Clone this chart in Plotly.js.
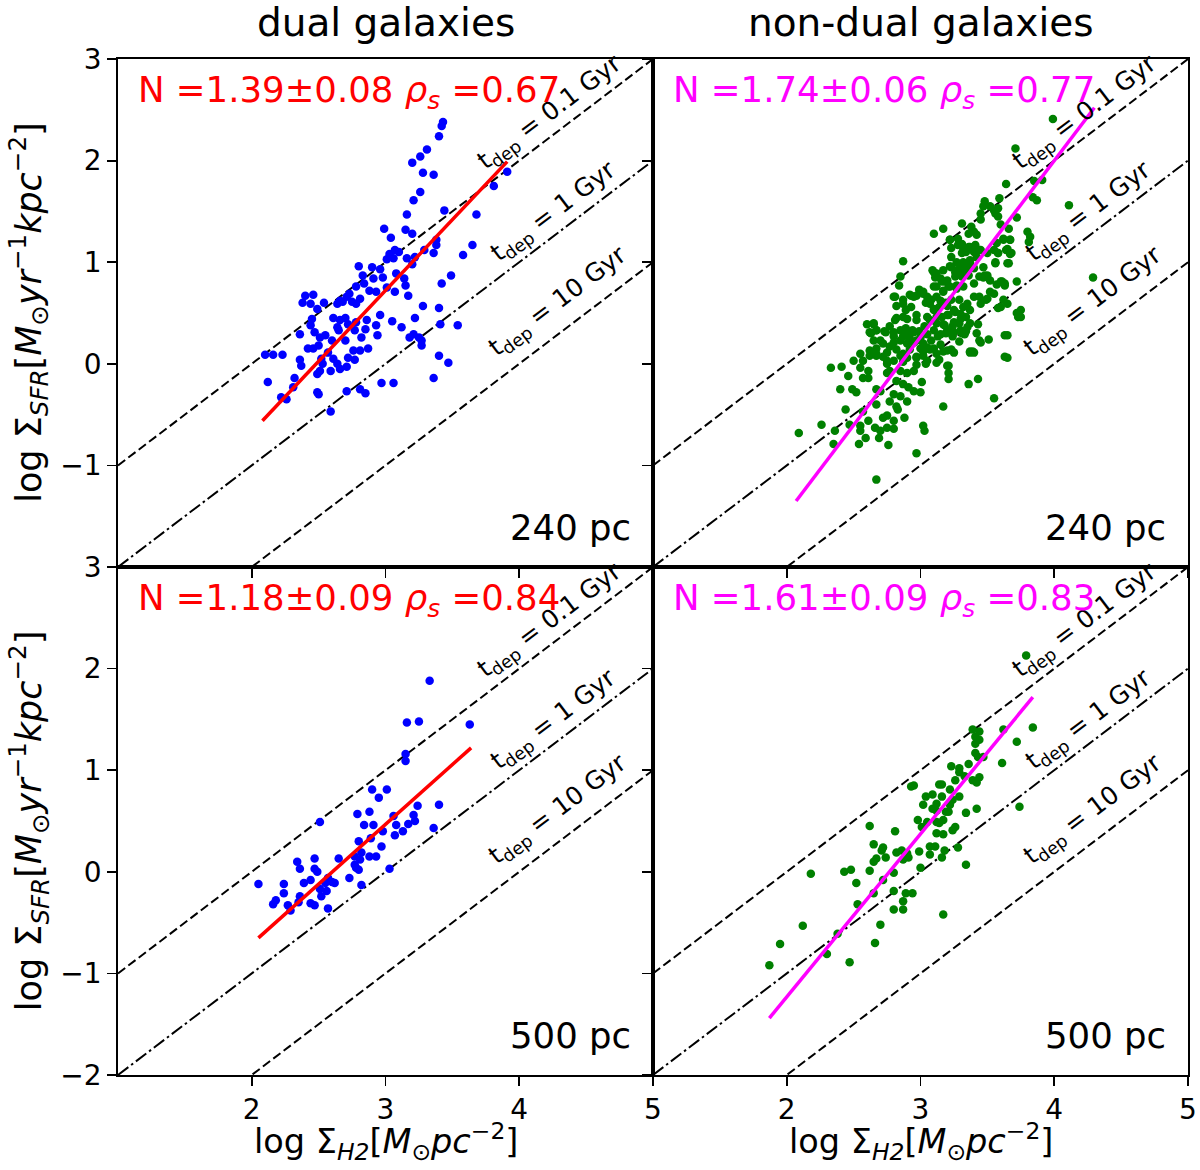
<!DOCTYPE html>
<html>
<head>
<meta charset="utf-8">
<script src="https://cdn.plot.ly/plotly-3.0.1.min.js"></script>
<style>
  body { margin: 0; background: #fff; }
  #chart { width: 1200px; height: 1170px; }
</style>
</head>
<body>
<div id="chart"></div>
<script>
// Данные: dual, 240 pc
const dual240X = [3.43,3.42,3.40,3.31,3.26,3.20,3.28,3.36,3.91,3.81,3.26,3.21,3.44,3.16,3.68,2.99,3.15,3.20,3.04,3.38,
  3.38,3.65,3.29,3.36,3.58,3.07,3.03,3.10,3.06,3.01,3.16,3.22,3.20,3.49,3.42,2.80,2.90,2.96,2.83,2.91,
  2.98,3.08,3.14,2.84,2.88,2.93,3.01,3.07,3.15,3.17,2.78,2.73,2.71,2.75,2.78,2.81,2.68,2.66,2.64,2.40,
  2.46,2.38,2.44,2.49,2.54,3.28,3.40,2.96,3.05,3.12,3.22,3.41,3.54,2.45,2.44,2.47,2.36,2.51,2.55,2.61,
  2.66,2.70,2.64,2.65,2.72,2.77,2.78,2.86,2.85,2.82,2.93,2.94,2.42,2.46,2.50,2.60,2.70,3.21,3.25,3.27,
  3.18,3.27,2.57,2.52,2.61,2.64,2.72,2.76,2.81,2.87,2.77,2.10,2.16,2.23,2.36,2.37,2.53,2.51,2.59,2.66,
  2.71,2.49,3.40,3.47,3.36,2.12,2.32,2.31,2.22,2.26,2.49,2.50,2.71,2.81,2.85,2.97,3.06,2.59];
const dual240Y = [2.38,2.34,2.24,2.11,2.04,1.98,1.88,1.86,1.89,1.75,1.69,1.61,1.51,1.47,1.47,1.33,1.32,1.28,1.24,1.22,
  1.17,1.17,1.12,1.09,1.07,1.12,1.08,1.10,1.04,1.03,1.04,1.05,0.98,0.87,0.79,0.96,0.95,0.93,0.87,0.84,
  0.85,0.89,0.84,0.79,0.72,0.71,0.75,0.71,0.77,0.67,0.76,0.69,0.66,0.61,0.59,0.64,0.61,0.62,0.59,0.67,
  0.68,0.60,0.59,0.54,0.60,0.57,0.55,0.48,0.42,0.36,0.45,0.39,0.38,0.44,0.38,0.31,0.29,0.26,0.28,0.45,
  0.43,0.45,0.36,0.33,0.39,0.33,0.41,0.43,0.34,0.26,0.38,0.28,0.15,0.15,0.18,0.23,0.23,0.29,0.26,0.23,
  0.26,0.18,0.11,0.05,0.05,0.00,0.06,0.13,0.13,0.15,0.04,0.09,0.09,0.09,0.04,-0.02,0.00,-0.07,-0.07,-0.05,
  -0.03,-0.10,0.08,0.01,-0.14,-0.18,-0.14,-0.23,-0.33,-0.35,-0.28,-0.30,-0.27,-0.25,-0.29,-0.19,-0.19,-0.47];

// Данные: non-dual, 240 pc
const nondual240X = [3.99,3.71,3.64,3.85,3.91,3.84,3.87,4.11,3.59,3.48,3.52,3.55,3.58,3.56,3.58,3.47,3.45,3.72,3.60,3.66,
  3.31,3.38,3.40,3.36,3.42,3.45,3.17,3.10,3.22,3.28,3.31,3.32,3.36,3.40,3.45,3.50,3.55,3.58,3.62,3.67,
  3.80,3.82,3.81,3.65,3.67,3.65,2.87,3.23,3.27,3.30,3.33,3.37,3.23,3.26,3.30,3.35,3.40,3.47,3.56,3.50,
  3.47,3.60,3.63,3.72,3.10,3.11,3.15,3.18,3.21,3.10,3.17,3.27,3.32,3.40,2.85,2.84,2.93,2.97,3.02,3.05,
  4.29,2.80,
  2.82,2.87,3.07,3.10,3.15,3.20,3.25,3.30,3.35,3.40,3.45,3.50,3.55,3.60,3.65,3.75,3.75,
  2.81,2.90,2.97,3.05,3.12,3.17,3.20,3.25,3.30,3.35,3.43,
  2.60,2.65,2.67,2.62,2.74,2.80,2.85,2.90,2.95,3.00,3.05,3.10,3.15,3.20,3.25,3.30,3.33,
  3.65,3.51,3.45,
  2.65,2.67,2.62,2.72,2.75,2.80,2.85,2.90,2.95,3.00,3.05,3.10,3.15,3.20,3.25,3.37,3.40,
  2.55,2.50,2.57,2.62,2.67,2.75,2.80,2.85,2.90,2.97,3.02,3.05,3.12,3.20,3.65,
  2.33,2.41,2.46,2.55,2.61,2.57,2.61,2.75,2.77,2.85,2.90,2.95,3.21,3.21,3.43,3.36,
  2.40,2.49,2.52,2.67,2.70,2.82,2.87,2.91,2.95,3.01,3.00,2.80,2.85,2.90,2.77,2.82,3.55,3.17,
  2.44,2.57,2.67,2.83,2.72,2.75,2.80,2.88,2.09,2.26,2.36,2.47,2.55,2.61,2.55,2.66,2.70,2.75,2.80,2.69,
  2.59,2.35,2.54,2.76,3.02,3.03,2.97,2.67,
  3.22,3.23,3.28,3.31,3.34,3.37,3.41,3.44,3.42,3.37,3.32,3.57,3.58,3.56,3.62,3.67,3.64,3.68,3.66,
  3.09,3.12,3.17,3.22,3.27,3.32,3.37,3.36,3.31,3.26,3.20,3.16,3.12,3.22,3.17,3.27,
  3.44,3.48,3.52,3.61,3.63,3.57,3.52,3.44,3.49,2.99,3.02,2.95,2.92,2.87,2.81,
  3.04,3.08,3.12,3.10,3.14,3.19,3.23,3.29,3.32,3.37,3.26,3.21,3.16,2.89,2.93,2.97,2.82,2.87,
  3.58,3.62,3.72,3.73,3.63,3.63,3.34,3.37,3.29,3.24,3.18,3.12,3.07,3.03,2.99,2.94,2.89,
  2.77,2.73,2.80,2.67,2.65,2.63,2.70,2.87,2.92,2.97,3.02,3.08,3.13,3.19,3.24,3.31,3.34,3.29,3.42,3.44,
  2.77,2.82,2.87,2.92,2.97,3.02,3.07,3.12,3.17,3.23,3.14,3.04,2.97,2.87,2.72,2.75,2.67,3.37,3.39,3.21];
const nondual240Y = [2.41,2.12,1.77,1.80,1.81,1.64,1.61,1.56,1.63,1.60,1.55,1.51,1.53,1.48,1.45,1.55,1.48,1.44,1.37,1.33,
  1.38,1.35,1.30,1.28,1.27,1.42,1.33,1.28,1.22,1.23,1.18,1.12,1.15,1.10,1.12,1.09,1.12,1.09,1.23,1.22,
  1.30,1.25,1.20,1.13,1.08,0.99,1.01,1.05,1.00,0.95,0.97,1.00,0.95,0.90,0.89,0.92,0.94,0.95,0.99,0.87,
  0.85,0.81,0.77,0.81,0.90,0.85,0.84,0.81,0.76,0.76,0.72,0.77,0.76,0.79,0.86,0.77,0.67,0.67,0.71,0.66,
  0.85,0.66,
  0.57,0.59,0.59,0.54,0.62,0.57,0.53,0.49,0.59,0.66,0.59,0.64,0.69,0.56,0.59,0.53,0.46,
  0.43,0.44,0.43,0.46,0.46,0.39,0.48,0.41,0.44,0.36,0.39,
  0.39,0.39,0.33,0.31,0.31,0.31,0.33,0.29,0.31,0.26,0.29,0.33,0.29,0.33,0.31,0.33,0.29,
  0.28,0.24,0.21,
  0.23,0.15,0.13,0.20,0.11,0.21,0.23,0.20,0.21,0.15,0.16,0.15,0.19,0.13,0.11,0.11,0.11,
  0.10,0.03,0.03,0.08,0.08,0.03,0.03,0.08,0.06,0.06,0.08,0.03,0.01,-0.02,0.06,
  -0.04,-0.03,-0.12,-0.04,-0.07,-0.14,-0.14,-0.09,-0.07,-0.07,-0.09,-0.07,-0.09,-0.15,-0.15,-0.20,
  -0.25,-0.25,-0.28,-0.25,-0.27,-0.17,-0.20,-0.23,-0.27,-0.18,-0.28,-0.30,-0.32,-0.37,-0.37,-0.42,-0.34,-0.42,
  -0.45,-0.47,-0.40,-0.45,-0.53,-0.51,-0.56,-0.53,-0.68,-0.60,-0.66,-0.60,-0.61,-0.56,-0.66,-0.63,-0.66,-0.63,-0.64,-0.73,
  -0.73,-0.79,-0.79,-0.80,-0.61,-0.66,-0.88,-1.14,
  1.22,1.14,1.17,1.09,1.10,1.15,1.17,1.12,1.05,1.02,1.00,1.19,1.09,1.00,1.22,1.22,1.12,1.09,0.99,
  0.92,0.89,0.92,0.96,0.92,0.94,0.96,0.87,0.86,0.86,0.82,0.81,0.76,0.76,0.71,0.74,
  0.86,0.87,0.82,0.81,0.79,0.78,0.71,0.66,0.63,0.73,0.69,0.66,0.68,0.63,0.66,
  0.60,0.63,0.66,0.53,0.56,0.60,0.63,0.63,0.56,0.53,0.51,0.48,0.46,0.53,0.56,0.48,0.45,0.46,
  0.55,0.63,0.50,0.46,0.28,0.07,0.46,0.40,0.40,0.37,0.38,0.40,0.43,0.37,0.32,0.33,0.35,
  0.37,0.32,0.27,0.33,0.40,0.30,0.23,0.27,0.25,0.23,0.20,0.23,0.27,0.30,0.27,0.30,0.32,0.22,0.30,0.23,
  0.17,0.14,0.10,0.14,0.07,0.12,0.14,0.10,0.12,0.14,0.04,0.00,-0.01,0.02,0.07,0.00,0.10,0.12,0.12,-0.02];

// Данные: dual, 500 pc
const dual500X = [3.33,3.16,3.25,3.63,3.15,3.15,2.90,3.01,2.95,3.24,3.40,2.79,2.88,3.06,3.21,2.84,2.91,3.08,3.17,3.22,
  2.51,2.98,3.13,3.07,3.36,2.89,2.80,2.97,2.82,2.77,2.81,2.88,2.93,2.65,2.47,2.34,2.36,2.47,2.49,2.77,
  2.78,2.80,3.03,2.73,2.82,2.39,2.44,2.57,2.60,2.55,2.62,2.05,2.24,2.24,2.51,2.56,2.52,2.36,2.18,2.16,
  2.35,2.44,2.47,2.27,2.29,2.57];
const dual500Y = [1.88,1.47,1.48,1.45,1.16,1.09,0.81,0.81,0.73,0.65,0.66,0.57,0.59,0.55,0.56,0.46,0.46,0.46,0.47,0.50,
  0.49,0.40,0.40,0.36,0.43,0.33,0.30,0.25,0.19,0.15,0.12,0.15,0.15,0.13,0.13,0.10,0.03,0.03,0.00,0.07,
  0.04,0.02,0.03,-0.06,-0.13,-0.11,-0.08,-0.06,-0.10,-0.11,-0.11,-0.12,-0.12,-0.21,-0.17,-0.19,-0.24,-0.24,-0.28,-0.32,
  -0.30,-0.31,-0.33,-0.33,-0.38,-0.36];

// Данные: non-dual, 500 pc
const nondual500X = [3.79,3.84,3.62,3.72,3.39,3.44,3.41,3.44,3.41,3.41,3.43,3.47,3.23,3.29,3.29,3.36,3.61,3.26,3.33,3.39,
  3.44,3.42,2.93,2.95,3.14,3.16,3.22,3.04,3.09,3.16,3.12,3.02,3.24,3.22,3.29,3.09,3.12,3.19,3.21,3.42,
  3.34,3.74,2.98,3.05,3.12,3.17,2.62,2.81,3.01,3.14,3.26,3.24,3.12,3.17,
  2.65,2.72,2.71,2.82,2.86,2.90,2.87,2.91,2.99,3.07,3.11,3.07,3.18,3.16,3.28,2.67,2.65,2.74,2.18,2.43,
  2.48,2.62,2.80,3.00,3.34,2.72,2.52,2.65,2.80,2.89,2.94,2.53,2.87,2.87,2.80,3.17,2.12,2.70,2.38,1.95,
  2.66,2.30,2.47,1.87];
const nondual500Y = [2.13,1.42,1.40,1.28,1.40,1.38,1.33,1.30,1.26,1.17,1.13,1.13,1.04,1.02,0.98,1.06,1.07,0.90,0.94,0.90,
  0.93,0.88,0.84,0.85,0.86,0.86,0.81,0.74,0.76,0.74,0.67,0.66,0.71,0.66,0.74,0.62,0.60,0.59,0.59,0.62,
  0.58,0.64,0.51,0.49,0.49,0.51,0.45,0.40,0.44,0.48,0.44,0.41,0.38,0.37,
  0.27,0.24,0.21,0.19,0.21,0.18,0.12,0.14,0.20,0.25,0.25,0.17,0.21,0.14,0.24,0.13,0.10,0.14,-0.02,0.00,
  0.02,0.01,-0.01,0.04,0.07,-0.08,-0.11,-0.21,-0.19,-0.21,-0.21,-0.32,-0.29,-0.37,-0.37,-0.42,-0.53,-0.52,-0.61,-0.71,
  -0.70,-0.81,-0.89,-0.92];

// Линии аппроксимации (концы)
const fitDual240X = [2.08, 3.91], fitDual240Y = [-0.56, 1.99];
const fitNondual240X = [2.07, 4.30], fitNondual240Y = [-1.35, 2.52];
const fitDual500X = [2.05, 3.64], fitDual500Y = [-0.65, 1.22];
const fitNondual500X = [1.87, 3.84], fitNondual500Y = [-1.44, 1.72];

// Подписи
const fitLabels = [
  "N =1.39±0.08 <i>ρ<sub>s</sub></i> =0.67",
  "N =1.74±0.06 <i>ρ<sub>s</sub></i> =0.77",
  "N =1.18±0.09 <i>ρ<sub>s</sub></i> =0.84",
  "N =1.61±0.09 <i>ρ<sub>s</sub></i> =0.83",
];
const scaleLabels = ["240 pc", "240 pc", "500 pc", "500 pc"];
const columnTitles = ["dual galaxies", "non-dual galaxies"];

// Линии времени истощения: log ΣSFR = log ΣH2 + offset
const tdepLabels = ["0.1 Gyr", "1 Gyr", "10 Gyr"];
const tdepOffsets = [-2, -3, -4];
const tdepDash = ["9px,4px", "13px,3.5px,2.5px,3.5px", "9px,4px"];

const xTicks = [2, 3, 4, 5];
const yTicksTop = [-1, 0, 1, 2, 3];
const yTicksBottom = [-2, -1, 0, 1, 2, 3];

const FONT = "DejaVu Sans, Verdana, sans-serif";

const panels = [
  { x: dual240X, y: dual240Y, fx: fitDual240X, fy: fitDual240Y, dot: "#0000ff", fit: "#ff0000" },
  { x: nondual240X, y: nondual240Y, fx: fitNondual240X, fy: fitNondual240Y, dot: "#008000", fit: "#ff00ff" },
  { x: dual500X, y: dual500Y, fx: fitDual500X, fy: fitDual500Y, dot: "#0000ff", fit: "#ff0000" },
  { x: nondual500X, y: nondual500Y, fx: fitNondual500X, fy: fitNondual500Y, dot: "#008000", fit: "#ff00ff" },
];

// положение подписей t_dep (центр повернутого текста)
const tdepLabelX = [4.23, 4.26, 4.29];
const tdepLabelY = [2.47, 1.49, 0.61];

const traces = [];
const annotations = [];

panels.forEach((p, i) => {
  const n = i + 1;
  const xa = n === 1 ? "x" : "x" + n;
  const ya = n === 1 ? "y" : "y" + n;

  // линии t_dep
  tdepOffsets.forEach((off, k) => {
    traces.push({
      x: [1, 5],
      y: [1 + off, 5 + off],
      xaxis: xa, yaxis: ya,
      mode: "lines",
      line: { color: "black", width: 2, dash: tdepDash[k] },
      hoverinfo: "skip",
    });
    annotations.push({
      xref: xa, yref: ya,
      x: tdepLabelX[k],
      y: tdepLabelY[k],
      text: "t<sub>dep</sub> = " + tdepLabels[k],
      textangle: -37,
      showarrow: false,
      xanchor: "center", yanchor: "middle",
      font: { family: FONT, size: 25, color: "black" },
    });
  });

  // точки
  traces.push({
    x: p.x, y: p.y,
    xaxis: xa, yaxis: ya,
    mode: "markers",
    marker: { color: p.dot, size: 8.5 },
    hoverinfo: "x+y",
  });

  // аппроксимация
  traces.push({
    x: p.fx, y: p.fy,
    xaxis: xa, yaxis: ya,
    mode: "lines",
    line: { color: p.fit, width: 3.5 },
    hoverinfo: "skip",
  });

  annotations.push({
    xref: xa + " domain", yref: ya + " domain",
    x: 0.034, y: 0.935,
    xanchor: "left", yanchor: "middle",
    text: fitLabels[i],
    showarrow: false,
    font: { family: FONT, size: 35.5, color: p.fit },
  });
  annotations.push({
    xref: xa + " domain", yref: ya + " domain",
    x: 0.962, y: 0.077,
    xanchor: "right", yanchor: "middle",
    text: scaleLabels[i],
    showarrow: false,
    font: { family: FONT, size: 35.5, color: "black" },
  });
});

// Заголовки колонок и подписи оси X
columnTitles.forEach((t, c) => {
  annotations.push({
    xref: "paper", yref: "paper",
    x: c === 0 ? 0.3215 : 0.7675, y: 0.981,
    xanchor: "center", yanchor: "middle",
    text: t, showarrow: false,
    font: { family: FONT, size: 39, color: "black" },
  });
  annotations.push({
    xref: "paper", yref: "paper",
    x: c === 0 ? 0.3215 : 0.7675, y: 0.024,
    xanchor: "center", yanchor: "middle",
    text: "log Σ<sub><i>H2</i></sub>[<i>M</i><sub>⊙</sub><i>pc</i><sup>−2</sup>]",
    showarrow: false,
    font: { family: FONT, size: 33.5, color: "black" },
  });
});

// Подписи оси Y
[0.7325, 0.298].forEach((yy) => {
  annotations.push({
    xref: "paper", yref: "paper",
    x: 0.024, y: yy,
    xanchor: "center", yanchor: "middle",
    textangle: -90,
    text: "log Σ<sub><i>SFR</i></sub>[<i>M</i><sub>⊙</sub><i>yr</i><sup>−1</sup><i>kpc</i><sup>−2</sup>]",
    showarrow: false,
    font: { family: FONT, size: 35, color: "black" },
  });
});

const colDomains = [[118 / 1200, 653 / 1200], [653 / 1200, 1188 / 1200]];
const rowDomains = [[1 - 567 / 1170, 1 - 59 / 1170], [1 - 1075 / 1170, 1 - 567 / 1170]];

function xAxis(col, row, anchor) {
  return {
    domain: colDomains[col],
    anchor: anchor,
    range: [1, 5],
    tickvals: xTicks,
    showticklabels: row === 1,
    ticks: "outside", ticklen: 9, tickwidth: 1.8, tickcolor: "black",
    showline: true, mirror: true, linecolor: "black", linewidth: 1.8,
    showgrid: false, zeroline: false,
    tickfont: { family: FONT, size: 28, color: "black" },
  };
}
function yAxis(col, row, anchor) {
  return {
    domain: rowDomains[row],
    anchor: anchor,
    range: [-2, 3],
    tickvals: row === 0 ? yTicksTop : yTicksBottom,
    showticklabels: col === 0,
    ticks: "outside", ticklen: 9, tickwidth: 1.8, tickcolor: "black",
    showline: true, mirror: true, linecolor: "black", linewidth: 1.8,
    showgrid: false, zeroline: false,
    tickfont: { family: FONT, size: 28, color: "black" },
  };
}

const layout = {
  width: 1200, height: 1170,
  margin: { l: 0, r: 0, t: 0, b: 0 },
  paper_bgcolor: "white", plot_bgcolor: "white",
  showlegend: false,
  font: { family: FONT, color: "black" },
  xaxis: xAxis(0, 0, "y"), yaxis: yAxis(0, 0, "x"),
  xaxis2: xAxis(1, 0, "y2"), yaxis2: yAxis(1, 0, "x2"),
  xaxis3: xAxis(0, 1, "y3"), yaxis3: yAxis(0, 1, "x3"),
  xaxis4: xAxis(1, 1, "y4"), yaxis4: yAxis(1, 1, "x4"),
  annotations: annotations,
};

Plotly.newPlot("chart", traces, layout, { staticPlot: true });
</script>
</body>
</html>
